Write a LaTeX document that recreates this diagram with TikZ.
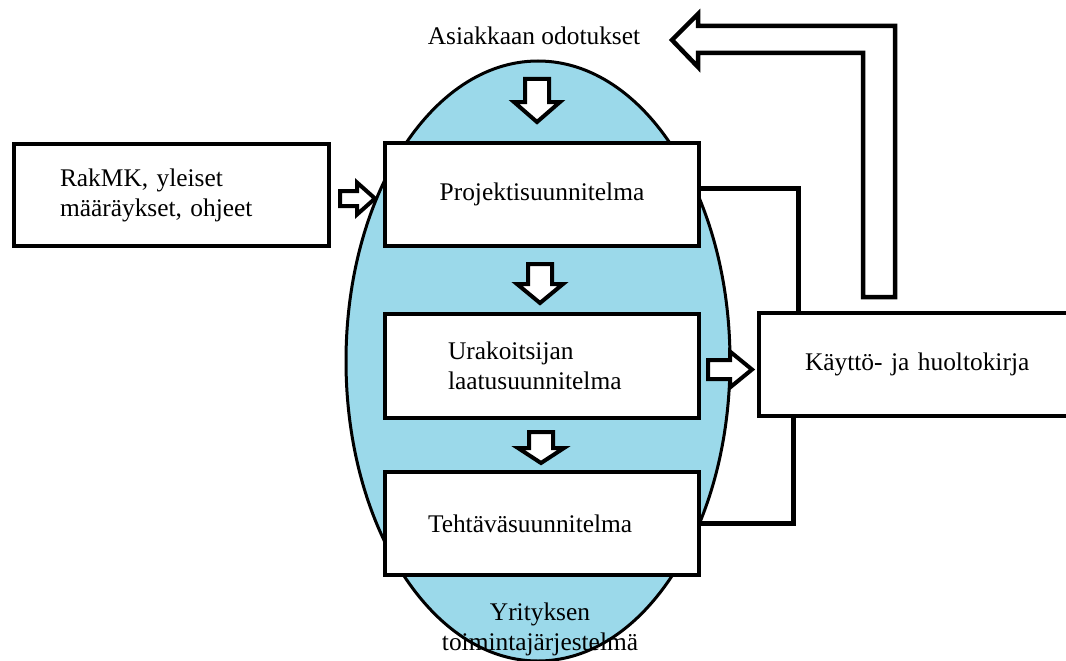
\documentclass[tikz,border=0pt]{standalone}
\usepackage{fontspec}
\setmainfont{Liberation Serif}
\usetikzlibrary{calc}
\usetikzlibrary{shapes}

\definecolor{systemBlue}{RGB}{155,217,234}

\newcommand{\blockDown}[3]{\draw[hollowStyle] (#1) ++(-12,0) -- ++(24,0) -- ++(0,#2) -- ++(11,0) -- ++(-23,#3) -- ++(-23,-#3) -- ++(11,0) -- cycle;}
\newcommand{\blockRight}[5]{\draw[hollowStyle] (#1) ++(0,-#4) -- ++(#2,0) -- ++(0,{#4-#5}) -- ++(#3,#5) -- ++(-#3,#5) -- ++(0,{#4-#5}) -- ++(-#2,0) -- cycle;}

\begin{document}
\begin{tikzpicture}[x = 1pt, y = -1pt, font={\fontsize{25.4}{30}\selectfont}]
	\tikzstyle{boxStyle} = [shape = rectangle, draw, line width = 4pt, fill = white, inner sep = 0pt, minimum width = 314, minimum height = 103]
	\tikzstyle{hollowStyle} = [draw, line width = 4pt, fill = white, line join = miter]
	\tikzstyle{linkStyle} = [draw, line width = 5pt]
	\useasboundingbox (0,0) rectangle (1066,661);
	\node[shape = ellipse, draw, line width = 3pt, fill = systemBlue, inner sep = 0pt, minimum width = 384, minimum height = 600] (jarjestelma) at (538,361) {};
	\node[anchor = base] (asiak) at (534,45) {Asiakkaan odotukset};
	\node[anchor = base, align = center] (yritys) at (540,650) {Yrityksen\\toimintajärjestelmä};
	\node[style = boxStyle, minimum width = 315, minimum height = 102, text width = 223, align = left] (rak) at (171.5,195) {RakMK, yleiset\\määräykset, ohjeet};
	\node[style = boxStyle, align = center] (proj) at (542,194.5) {Projektisuunnitelma};
	\node[style = boxStyle, minimum height = 104, text width = 188, align = left] (urak) at (542,366) {Urakoitsijan\\laatusuunnitelma};
	\node[style = boxStyle, text width = 228, align = left] (teht) at (542,523.5) {Tehtäväsuunnitelma};
	\node[style = boxStyle, minimum width = 321, text width = 229, align = left] (kaytto) at (919.5,364.5) {Käyttö- ja huoltokirja};
	\draw[linkStyle] ([yshift = 6]proj.east) -| ([xshift = 41]kaytto.north west);
	\draw[linkStyle] (teht.east) -| ([xshift = 36]kaytto.south west);
	\blockDown{$(asiak.base)+(3,34)$}{23}{20}
	\blockDown{$(proj.south)+(-2,16)$}{20}{19}
	\blockDown{$(urak.south)+(-1,12)$}{16}{15}
	\blockRight{$(rak.east)+(9,3.5)$}{17}{18}{7.5}{16}
	\blockRight{$(urak.east)+(7,3.5)$}{22}{22}{9.5}{18}
	\coordinate (fbBase) at ($(kaytto.north west)+(122,-14)$);
	\draw[style = hollowStyle, line width = 4.5pt] (fbBase) ++(-16,0) -- ++(0,-244) -- ++(-165,0) -- ++(0,14) -- ++(-26,-27) -- ++(26,-26) -- ++(0,12) -- ++(197,0) -- ++(0,271) -- cycle;
\end{tikzpicture}
\end{document}
